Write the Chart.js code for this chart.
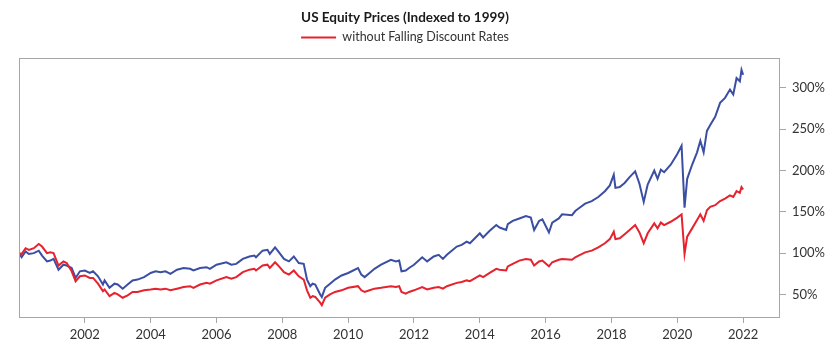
<!DOCTYPE html>
<html>
<head>
<meta charset="utf-8">
<script src="https://cdn.jsdelivr.net/npm/chart.js@4/dist/chart.umd.min.js"></script>
<style>
  html, body { margin: 0; padding: 0; background: #ffffff; }
  #wrap { width: 840px; height: 356px; }
</style>
</head>
<body>
<div id="wrap"><canvas id="c" width="840" height="356"></canvas></div>
<script>
// ---- data ----
const years = [
  2000.00,2000.08,2000.20,2000.30,2000.45,2000.60,2000.70,2000.85,2000.95,
  2001.05,2001.20,2001.35,2001.45,2001.60,2001.72,2001.85,
  2002.00,2002.15,2002.25,2002.40,2002.55,2002.60,2002.75,2002.90,
  2003.00,2003.15,2003.30,2003.45,2003.60,2003.80,
  2004.00,2004.15,2004.30,2004.45,2004.60,2004.80,
  2005.00,2005.20,2005.30,2005.50,2005.70,2005.80,
  2006.00,2006.30,2006.45,2006.60,2006.80,
  2007.00,2007.15,2007.20,2007.40,2007.55,2007.62,2007.78,2007.90,
  2008.05,2008.20,2008.35,2008.50,2008.65,2008.75,2008.85,2008.92,
  2009.00,2009.15,2009.20,2009.30,2009.45,2009.60,2009.80,
  2010.00,2010.30,2010.40,2010.50,2010.65,2010.80,
  2011.00,2011.30,2011.45,2011.55,2011.62,2011.75,2011.85,
  2012.00,2012.25,2012.40,2012.60,2012.75,2012.88,
  2013.00,2013.30,2013.45,2013.60,2013.70,
  2014.00,2014.10,2014.30,2014.50,2014.60,2014.80,2014.85,
  2015.00,2015.20,2015.40,2015.55,2015.65,2015.80,2015.90,
  2016.10,2016.20,2016.40,2016.50,2016.80,2016.90,
  2017.00,2017.20,2017.40,2017.60,2017.80,2017.95,
  2018.07,2018.12,2018.25,2018.40,2018.55,2018.72,2018.85,2018.98,
  2019.10,2019.30,2019.40,2019.50,2019.60,2019.80,
  2020.00,2020.13,2020.22,2020.30,2020.45,2020.60,2020.70,2020.80,2020.90,
  2021.00,2021.15,2021.30,2021.45,2021.60,2021.70,2021.80,2021.90,2021.95,2022.00
];
const equityPrices = [
  100,95,102,99,100,103,97,90,91,
  93,80,86,85,82,70,78,
  79,76,78,72,62,67,58,63,
  62,57,62,67,68,71,
  76,78,77,78,75,80,
  82,81,79,82,83,81,
  86,89,86,87,93,
  96,97,95,103,104,99,107,101,
  93,90,96,88,87,68,60,63,
  62,50,47,58,63,68,73,
  76,82,74,71,76,81,
  86,92,90,91,78,79,82,
  86,95,90,96,98,93,
  98,108,110,114,112,
  124,119,127,134,131,128,135,
  139,142,145,143,128,139,141,
  125,137,142,147,146,151,
  154,160,163,168,175,182,
  195,179,180,185,192,199,184,162,
  183,200,190,201,198,207,
  220,230,155,190,207,222,236,222,248,
  255,265,282,288,298,292,312,308,322,316
];
const withoutFallingRates = [
  100,99,106,104,106,111,108,100,101,
  100,85,90,88,78,66,72,
  73,70,70,63,54,56,48,52,
  50,46,49,53,53,55,
  56,57,56,57,55,57,
  59,60,58,62,64,63,
  67,71,69,71,77,
  80,81,79,85,86,82,89,84,
  77,74,79,72,68,55,46,48,
  47,40,37,46,50,53,55,
  58,60,55,53,55,57,
  58,60,59,60,53,51,53,
  55,59,56,58,59,57,
  60,64,65,67,66,
  73,71,76,81,80,79,84,
  87,91,93,92,85,90,91,
  84,89,92,93,92,95,
  97,101,103,107,112,117,
  126,117,118,123,128,134,125,112,
  124,136,130,137,134,138,
  143,147,99,120,130,140,147,139,152,
  156,158,163,166,170,168,175,173,180,177
];
const xTickValues = [2002,2004,2006,2008,2010,2012,2014,2016,2018,2020,2022];
const yTickValues = [50,100,150,200,250,300];
const titleText = 'US Equity Prices (Indexed to 1999)';
const legendText = 'without Falling Discount Rates';

const BLUE = '#3a4ea3';
const RED = '#e5222e';
const GRAY = '#a6a6a6';
const FONT = 'Lato, "Open Sans", sans-serif';
const HEADER_SHIFT = -24.5;

const frame = {
  id: 'frame',
  beforeInit(chart) {
    const lg = chart.legend;
    if (lg) {
      const fit = lg.fit;
      lg.fit = function () { fit.call(lg); this.height += 4; };
    }
  },
  beforeDraw(chart) {
    [chart.titleBlock, chart.legend].forEach(b => {
      if (b) { b.left += HEADER_SHIFT; b.right += HEADER_SHIFT; }
    });
  },
  afterDatasetsDraw(chart) {
    const a = chart.chartArea, ctx = chart.ctx;
    ctx.save();
    ctx.strokeStyle = GRAY;
    ctx.lineWidth = 1;
    ctx.strokeRect(Math.round(a.left) + 0.5, Math.round(a.top) + 0.5,
                   Math.round(a.right - a.left) - 1, Math.round(a.bottom - a.top));
    ctx.restore();
  }
};

new Chart(document.getElementById('c'), {
  type: 'line',
  data: {
    datasets: [
      {
        label: legendText,
        data: years.map((x, i) => ({ x: x, y: withoutFallingRates[i] })),
        borderColor: RED, backgroundColor: RED,
        borderWidth: 2, pointRadius: 0, tension: 0
      },
      {
        label: 'US Equity Prices',
        data: years.map((x, i) => ({ x: x, y: equityPrices[i] })),
        borderColor: BLUE, backgroundColor: BLUE,
        borderWidth: 2, pointRadius: 0, tension: 0
      }
    ]
  },
  options: {
    responsive: false,
    animation: false,
    events: [],
    layout: { padding: { left: 19, right: 0, top: 0, bottom: 0 } },
    plugins: {
      tooltip: { enabled: false },
      title: {
        display: true, text: titleText, color: '#1a1a1a',
        font: { family: FONT, size: 13.5, weight: 'bold' },
        padding: { top: 10, bottom: 0 }
      },
      legend: {
        display: true,
        labels: {
          color: '#333333',
          font: { family: FONT, size: 12.5 },
          boxWidth: 35, boxHeight: 2, padding: 5,
          generateLabels: () => [{
            text: legendText, fillStyle: RED, strokeStyle: RED, lineWidth: 0,
            hidden: false, datasetIndex: 0, fontColor: '#333333'
          }]
        }
      }
    },
    scales: {
      x: {
        type: 'linear', min: 2000.0, max: 2023.12,
        afterBuildTicks: ax => { ax.ticks = xTickValues.map(v => ({ value: v })); },
        afterFit: ax => { ax.height = 39; },
        grid: { display: true, drawOnChartArea: false, drawTicks: true, tickLength: 6, color: GRAY },
        border: { display: false },
        ticks: {
          color: '#333333', font: { family: FONT, size: 13 }, padding: 4,
          maxRotation: 0, autoSkip: false,
          callback: v => String(v)
        }
      },
      y: {
        type: 'linear', position: 'right', min: 22.7, max: 336.6,
        afterBuildTicks: ax => { ax.ticks = yTickValues.map(v => ({ value: v })); },
        afterFit: ax => { ax.width = 60; },
        grid: { display: true, drawOnChartArea: false, drawTicks: true, tickLength: 6, color: GRAY },
        border: { display: false },
        ticks: {
          color: '#333333', font: { family: FONT, size: 13 }, padding: 6,
          autoSkip: false,
          callback: v => v + '%'
        }
      }
    }
  },
  plugins: [frame]
});
</script>
</body>
</html>
